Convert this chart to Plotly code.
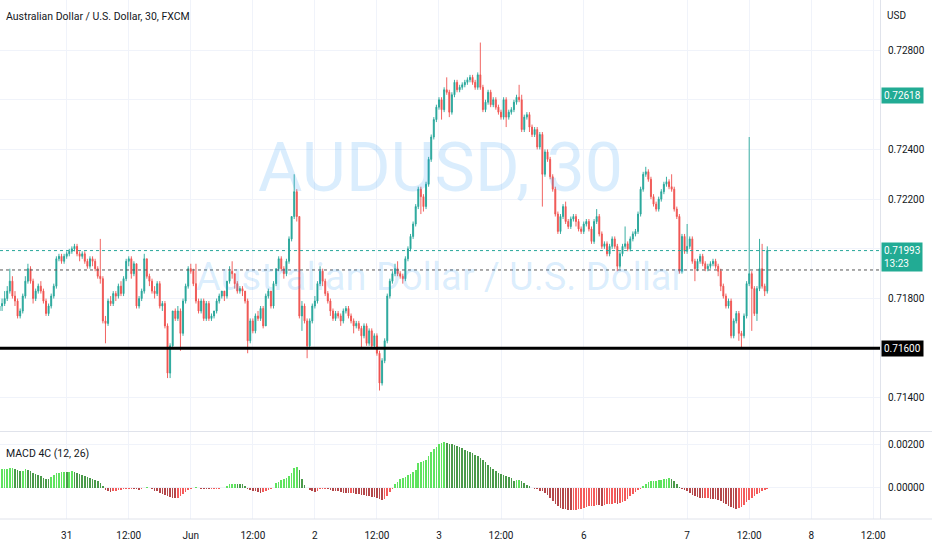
import plotly.graph_objects as go

# ---- bar positions (30-min bars; 0 = May 31 00:00) ----
first_bar = -26
last_bar = 271

# ---- OHLC in pips (price * 10000) ----
open_pips = [
    7175,7177,7178,7180,7183,7187,7181,7179,7173,7175,
    7181,7187,7192,7187,7180,7183,7185,7183,7179,7174,
    7177,7181,7185,7196,7197,7195,7197,7198,7199,7200,
    7201,7198,7197,7198,7195,7193,7196,7195,7192,7189,
    7188,7171,7170,7179,7178,7182,7181,7185,7182,7188,
    7195,7196,7190,7194,7177,7180,7183,7196,7189,7187,
    7183,7182,7186,7177,7178,7169,7150,7161,7175,7172,
    7175,7166,7179,7185,7192,7191,7186,7179,7175,7179,
    7172,7178,7172,7173,7175,7179,7181,7183,7181,7187,
    7191,7190,7186,7183,7184,7183,7179,7163,7171,7167,
    7173,7172,7176,7169,7181,7183,7177,7186,7192,7196,
    7192,7190,7195,7204,7213,7223,7213,7173,7177,7171,
    7161,7171,7177,7179,7186,7191,7187,7182,7179,7175,
    7172,7174,7173,7171,7175,7176,7173,7171,7169,7170,
    7168,7165,7169,7162,7167,7161,7165,7158,7146,7155,
    7163,7181,7187,7190,7192,7190,7189,7188,7196,7200,
    7205,7210,7217,7224,7221,7217,7226,7236,7245,7252,
    7257,7260,7256,7264,7263,7255,7262,7267,7264,7265,
    7266,7267,7268,7269,7267,7265,7270,7265,7256,7259,
    7263,7258,7260,7257,7255,7253,7260,7253,7255,7256,
    7259,7261,7260,7248,7253,7254,7249,7246,7248,7241,
    7246,7230,7239,7236,7229,7224,7214,7207,7213,7217,
    7211,7209,7212,7213,7211,7208,7207,7210,7211,7208,
    7203,7211,7213,7206,7201,7202,7198,7201,7204,7201,
    7193,7198,7201,7202,7200,7204,7206,7207,7214,7224,
    7230,7231,7228,7221,7218,7216,7220,7223,7226,7227,
    7225,7224,7216,7213,7191,7205,7199,7201,7204,7195,
    7192,7195,7197,7194,7192,7193,7194,7195,7193,7191,
    7185,7181,7177,7179,7165,7171,7174,7166,7165,7173,
    7186,7190,7184,7174,7184,7192,7185,7183,
]
close_pips = [
    7177,7178,7180,7183,7187,7181,7179,7173,7175,7181,
    7187,7192,7187,7180,7183,7185,7183,7179,7174,7177,
    7181,7185,7196,7197,7195,7197,7198,7199,7200,7201,
    7198,7197,7198,7195,7193,7196,7195,7192,7189,7188,
    7171,7170,7179,7178,7182,7181,7185,7182,7188,7195,
    7196,7190,7194,7177,7180,7183,7196,7189,7187,7183,
    7182,7186,7177,7178,7169,7150,7161,7175,7172,7175,
    7166,7179,7185,7192,7191,7186,7179,7175,7179,7172,
    7178,7172,7173,7175,7179,7181,7183,7181,7187,7191,
    7190,7186,7183,7184,7183,7179,7163,7171,7167,7173,
    7172,7176,7169,7181,7183,7177,7186,7192,7196,7192,
    7190,7195,7204,7213,7223,7213,7173,7177,7171,7161,
    7171,7177,7179,7186,7191,7187,7182,7179,7175,7172,
    7174,7173,7171,7175,7176,7173,7171,7169,7170,7168,
    7165,7169,7162,7167,7161,7165,7158,7146,7155,7163,
    7181,7187,7190,7192,7190,7189,7188,7196,7200,7205,
    7210,7217,7224,7221,7217,7226,7236,7245,7252,7257,
    7260,7256,7264,7263,7255,7262,7267,7264,7265,7266,
    7267,7268,7269,7267,7265,7270,7265,7256,7259,7263,
    7258,7260,7257,7255,7253,7260,7253,7255,7256,7259,
    7261,7260,7248,7253,7254,7249,7246,7248,7241,7246,
    7230,7239,7236,7229,7224,7214,7207,7213,7217,7211,
    7209,7212,7213,7211,7208,7207,7210,7211,7208,7203,
    7211,7213,7206,7201,7202,7198,7201,7204,7201,7193,
    7198,7201,7202,7200,7204,7206,7207,7214,7224,7230,
    7231,7228,7221,7218,7216,7220,7223,7226,7227,7225,
    7224,7216,7213,7191,7205,7199,7201,7204,7195,7192,
    7195,7197,7194,7192,7193,7194,7195,7193,7191,7185,
    7181,7177,7179,7165,7171,7174,7166,7165,7173,7186,
    7190,7184,7174,7184,7192,7185,7183,7199.3,
]
high_pips = [
    7179,7180,7183,7185,7192,7189,7183,7180,7176,7182,
    7189,7194,7193,7188,7184,7186,7187,7184,7180,7178,
    7182,7186,7197,7198,7198,7198,7199,7200,7201,7202,
    7202,7199,7199,7199,7196,7197,7197,7196,7193,7204,
    7189,7173,7180,7181,7183,7183,7186,7187,7189,7196,
    7197,7197,7195,7194,7181,7184,7198,7196,7190,7188,
    7185,7187,7187,7179,7179,7170,7162,7175,7176,7177,
    7176,7180,7186,7193,7194,7192,7194,7180,7180,7180,
    7179,7179,7174,7175,7180,7182,7183,7183,7187,7193,
    7195,7190,7187,7185,7185,7183,7180,7172,7172,7174,
    7175,7177,7177,7182,7184,7183,7187,7192,7197,7197,
    7193,7196,7205,7213,7230,7224,7213,7179,7178,7172,
    7172,7178,7181,7187,7193,7192,7188,7183,7180,7176,
    7175,7175,7174,7176,7177,7177,7174,7172,7171,7171,
    7169,7170,7170,7168,7168,7166,7166,7159,7156,7164,
    7182,7188,7191,7194,7195,7191,7190,7197,7201,7206,
    7211,7218,7225,7225,7222,7227,7237,7246,7253,7258,
    7261,7261,7265,7269,7264,7263,7268,7268,7266,7267,
    7268,7269,7270,7270,7268,7271,7283,7266,7260,7264,
    7264,7261,7261,7258,7256,7261,7261,7256,7257,7260,
    7262,7266,7262,7254,7255,7255,7250,7249,7249,7247,
    7247,7240,7240,7237,7230,7225,7215,7214,7218,7219,
    7212,7213,7214,7214,7212,7209,7211,7212,7212,7209,
    7212,7216,7214,7207,7203,7203,7202,7205,7205,7202,
    7199,7202,7209,7203,7205,7207,7208,7215,7225,7231,
    7233,7232,7229,7222,7219,7221,7224,7227,7229,7228,
    7230,7225,7217,7214,7206,7206,7210,7205,7205,7196,
    7196,7198,7198,7195,7194,7195,7196,7196,7194,7192,
    7186,7182,7180,7180,7172,7175,7175,7167,7174,7187,
    7245,7191,7185,7185,7204,7202,7186,7201,
]
low_pips = [
    7173,7175,7177,7179,7182,7180,7177,7172,7172,7174,
    7180,7186,7186,7178,7179,7182,7182,7178,7173,7173,
    7176,7180,7184,7195,7194,7194,7196,7197,7198,7199,
    7197,7195,7196,7194,7192,7192,7193,7191,7188,7186,
    7170,7162,7169,7177,7177,7179,7180,7181,7181,7187,
    7193,7188,7189,7176,7176,7179,7182,7188,7185,7182,
    7180,7181,7176,7175,7168,7148,7148,7160,7171,7171,
    7159,7165,7178,7184,7190,7185,7178,7174,7174,7171,
    7171,7171,7171,7172,7174,7178,7180,7179,7180,7186,
    7188,7184,7182,7182,7181,7178,7158,7162,7166,7166,
    7171,7171,7168,7169,7180,7176,7176,7185,7191,7191,
    7188,7189,7194,7203,7212,7211,7172,7167,7170,7156,
    7160,7170,7176,7178,7185,7185,7181,7178,7173,7171,
    7171,7172,7169,7170,7174,7172,7170,7166,7168,7167,
    7160,7164,7161,7161,7160,7160,7157,7143,7145,7154,
    7162,7180,7186,7189,7189,7188,7186,7187,7195,7199,
    7204,7209,7216,7214,7215,7216,7225,7235,7244,7251,
    7256,7252,7255,7262,7253,7254,7261,7263,7263,7264,
    7265,7266,7267,7266,7264,7264,7264,7255,7255,7258,
    7257,7257,7256,7254,7252,7252,7249,7252,7254,7255,
    7258,7259,7247,7247,7252,7247,7245,7245,7240,7240,
    7217,7229,7235,7228,7223,7213,7206,7206,7212,7210,
    7208,7208,7211,7209,7207,7206,7206,7209,7207,7202,
    7202,7210,7205,7200,7200,7197,7197,7200,7200,7191,
    7192,7197,7200,7199,7199,7203,7205,7206,7213,7223,
    7229,7227,7220,7217,7215,7215,7219,7222,7225,7224,
    7223,7215,7212,7190,7190,7198,7198,7200,7194,7187,
    7191,7194,7193,7191,7191,7192,7193,7192,7189,7183,
    7180,7176,7176,7164,7164,7170,7163,7160,7164,7172,
    7185,7167,7173,7171,7183,7184,7181,7182,
]

# ---- MACD 4C histogram, in units of 0.00001 ----
macd_hist = [
    83,84,86,87,89,90,86,80,75,78,
    83,81,75,68,63,59,53,45,38,37,
    50,59,65,68,71,72,71,72,74,72,
    68,63,59,54,50,45,41,35,29,20,
    8,-11,-17,-20,-18,-15,-12,-11,-9,-8,
    -6,-5,-8,-9,-11,-6,-1,1,-3,-9,
    -14,-18,-24,-30,-35,-41,-45,-48,-50,-48,
    -41,-30,-20,-12,-6,-2,1,-1,-5,-6,
    -8,-9,-9,-8,-6,-5,-3,-1,8,14,
    17,18,18,17,14,8,-5,-11,-15,-18,
    -21,-23,-20,-15,-11,-6,-1,23,27,33,
    38,44,53,68,90,95,80,38,11,-2,
    -11,-18,-21,-14,-9,-6,-5,-8,-12,-15,
    -17,-18,-21,-23,-24,-26,-26,-27,-29,-32,
    -33,-36,-39,-41,-42,-44,-47,-54,-57,-53,
    -38,-20,-8,14,26,38,44,50,56,63,
    71,80,113,117,122,128,143,164,176,188,
    198,206,207,204,201,198,194,189,185,180,
    173,168,162,158,150,143,135,128,116,105,
    95,83,75,68,60,57,53,48,42,30,
    33,35,30,20,12,6,-1,-5,-9,-14,
    -18,-24,-35,-48,-62,-74,-84,-92,-98,-101,
    -104,-105,-104,-102,-101,-98,-93,-89,-86,-86,
    -83,-80,-81,-83,-80,-77,-77,-75,-72,-74,
    -71,-66,-60,-53,-41,-30,-20,-12,-5,5,
    18,26,29,30,32,33,36,38,41,42,
    38,29,15,3,-6,-12,-18,-26,-35,-41,
    -45,-48,-50,-50,-50,-51,-53,-54,-57,-63,
    -71,-77,-84,-90,-95,-98,-96,-90,-80,-68,
    -57,-48,-41,-32,-24,-17,-11,-5,
]

# ---- axis ticks ----
time_tick_bars = [0, 24, 48, 72, 96, 120, 144, 168, 200, 240, 264, 288, 312]
time_tick_labels = ["31", "12:00", "Jun", "12:00", "2", "12:00", "3", "12:00",
                    "6", "7", "12:00", "8", "12:00"]
price_ticks = [0.728, 0.726, 0.724, 0.722, 0.720, 0.718, 0.716, 0.714]
price_tick_labels = ["0.72800", "", "0.72400", "0.72200", "", "0.71800", "", "0.71400"]
macd_ticks = [0.002, 0.0]
macd_tick_labels = ["0.00200", "0.00000"]

support_level = 0.716
last_price = 0.71993
prev_close = 0.71915
marker_price = 0.72618
countdown = "13:23"

# ---------------------------------------------------------------
bars = list(range(first_bar, last_bar + 1))
opens = [v / 10000 for v in open_pips]
closes = [v / 10000 for v in close_pips]
highs = [v / 10000 for v in high_pips]
lows = [v / 10000 for v in low_pips]
hist = [v / 100000 for v in macd_hist]

UP = "#26a69a"
DN = "#ef5350"
FONT = "Roboto, Arial, sans-serif"
TXT = "#131722"
GRID = "#f0f3fa"
BORDER = "#e0e3eb"

hist_colors = []
for k, v in enumerate(hist):
    prev = hist[k - 1] if k > 0 else v
    if v > 0:
        hist_colors.append("#5fe35f" if v > prev else "#4b9a4b")
    else:
        hist_colors.append("#b4474a" if v < prev else "#f45b5b")

fig = go.Figure()
fig.add_trace(go.Candlestick(
    x=bars, open=opens, high=highs, low=lows, close=closes,
    increasing=dict(line=dict(color=UP, width=0.9), fillcolor=UP),
    decreasing=dict(line=dict(color=DN, width=0.9), fillcolor=DN),
    whiskerwidth=0, hoverinfo="skip", xaxis="x", yaxis="y", showlegend=False,
))
fig.add_trace(go.Bar(
    x=bars, y=hist, marker=dict(color=hist_colors, line=dict(width=0)),
    width=0.62, xaxis="x2", yaxis="y2", hoverinfo="skip", showlegend=False,
))

W, H = 932, 550
ml, mr, mt, mb = 0, 52, 0, 31
ph = H - mt - mb  # 519
split = (ph - 431.5) / ph

xr = [-25.8, 314.6]
common_x = dict(range=xr, tickvals=time_tick_bars, showgrid=True, gridcolor=GRID,
                gridwidth=1, zeroline=False, fixedrange=True)
axfont = dict(family=FONT, size=10, color=TXT)

fig.update_layout(
    width=W, height=H,
    margin=dict(l=ml, r=mr, t=mt, b=mb),
    paper_bgcolor="white", plot_bgcolor="white",
    showlegend=False, hovermode=False, boxgap=0.45, bargap=0,
    font=dict(family=FONT, color=TXT, size=10),
    xaxis=dict(**common_x, anchor="y", showticklabels=False, ticks="",
               rangeslider=dict(visible=False)),
    xaxis2=dict(**common_x, anchor="y2", matches="x", ticktext=time_tick_labels,
                ticks="outside", ticklen=7, tickcolor="rgba(0,0,0,0)",
                tickfont=axfont, showline=False),
    yaxis=dict(domain=[split + 0.001, 1], side="right", range=[0.712672, 0.730012],
               tickvals=price_ticks, ticktext=price_tick_labels,
               showgrid=True, gridcolor=GRID, zeroline=False,
               ticks="outside", ticklen=5, tickcolor="rgba(0,0,0,0)",
               tickfont=axfont,
               showline=True, linecolor=BORDER, linewidth=1, fixedrange=True),
    yaxis2=dict(domain=[0, split - 0.001], side="right", range=[-0.001448, 0.002552],
                tickvals=macd_ticks, ticktext=macd_tick_labels,
                showgrid=True, gridcolor=GRID, zeroline=False,
                ticks="outside", ticklen=5, tickcolor="rgba(0,0,0,0)",
                tickfont=axfont,
                showline=True, linecolor=BORDER, linewidth=1, fixedrange=True),
)

shapes = [
    dict(type="line", xref="paper", yref="paper", x0=0, x1=1.06, y0=split, y1=split,
         line=dict(color=BORDER, width=1)),
    dict(type="line", xref="paper", yref="paper", x0=0, x1=1.06, y0=0, y1=0,
         line=dict(color=BORDER, width=1)),
    dict(type="line", xref="paper", yref="y", x0=0, x1=1, y0=prev_close, y1=prev_close,
         line=dict(color="#555555", width=1, dash="dot")),
    dict(type="line", xref="paper", yref="y", x0=0, x1=1, y0=last_price, y1=last_price,
         line=dict(color=UP, width=1, dash="dot")),
    dict(type="line", xref="paper", yref="y", x0=0, x1=1, y0=support_level, y1=support_level,
         line=dict(color="#000000", width=3)),
]
fig.update_layout(shapes=shapes)

def py(px):
    return 1 - px / ph

annotations = [
    # watermark
    dict(text="AUDUSD, 30", xref="paper", yref="paper", x=0.5, y=py(168),
         xanchor="center", yanchor="middle", showarrow=False,
         font=dict(family=FONT, size=68, color="rgba(33,150,243,0.17)")),
    dict(text="Australian Dollar / U.S. Dollar", xref="paper", yref="paper", x=0.5, y=py(277),
         xanchor="center", yanchor="middle", showarrow=False,
         font=dict(family=FONT, size=38, color="rgba(33,150,243,0.17)")),
    # title & pane label
    dict(text="Australian Dollar / U.S. Dollar, 30, FXCM", xref="paper", yref="paper",
         x=0, y=py(17), xanchor="left", yanchor="middle", xshift=4, showarrow=False,
         font=dict(family=FONT, size=10.5, color=TXT)),
    dict(text="MACD 4C (12, 26)", xref="paper", yref="paper",
         x=0, y=py(453), xanchor="left", yanchor="middle", xshift=4, showarrow=False,
         font=dict(family=FONT, size=10.5, color=TXT)),
    dict(text="USD", xref="paper", yref="paper", x=1, y=py(15), xanchor="left",
         yanchor="middle", xshift=5, showarrow=False,
         font=dict(family=FONT, size=10, color=TXT)),
    # price labels on the scale
    dict(text="%.5f" % marker_price, xref="paper", yref="y", x=1, y=marker_price,
         xanchor="left", yanchor="middle", xshift=1, showarrow=False,
         bgcolor="#22ab94", borderpad=2, font=dict(family=FONT, size=10, color="white")),
    dict(text="%.5f<br>%s" % (last_price, countdown), xref="paper", yref="y", x=1, y=last_price,
         xanchor="left", yanchor="top", xshift=1, yshift=9, showarrow=False, align="left",
         bgcolor="#22ab94", borderpad=2, font=dict(family=FONT, size=10, color="white")),
    dict(text="%.5f" % support_level, xref="paper", yref="y", x=1, y=support_level,
         xanchor="left", yanchor="middle", xshift=1, showarrow=False,
         bgcolor="#000000", borderpad=2, font=dict(family=FONT, size=10, color="white")),
]
fig.update_layout(annotations=annotations)

fig.write_html(
    "out.html",
    config={"displayModeBar": False, "staticPlot": True},
    post_script="document.body.style.margin='0';document.body.style.overflow='hidden';",
)
